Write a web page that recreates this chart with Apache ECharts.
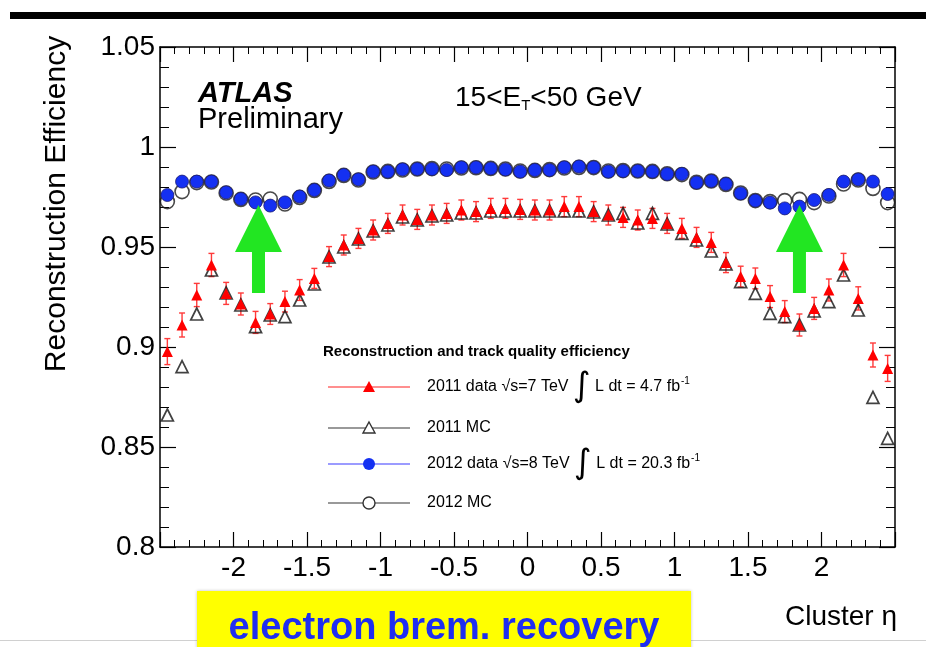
<!DOCTYPE html>
<html>
<head>
<meta charset="utf-8">
<script src="https://cdn.jsdelivr.net/npm/echarts@6/dist/echarts.min.js"></script>
<style>
  html, body { margin: 0; padding: 0; background: #fff; }
  #chart { width: 926px; height: 647px; }
</style>
</head>
<body>
<div id="chart"></div>
<script>
// Cluster eta bin centres
const etaBins = [
  -2.45, -2.35, -2.25, -2.15, -2.05, -1.95, -1.85, -1.75, -1.65, -1.55,
  -1.45, -1.35, -1.25, -1.15, -1.05, -0.95, -0.85, -0.75, -0.65, -0.55,
  -0.45, -0.35, -0.25, -0.15, -0.05, 0.05, 0.15, 0.25, 0.35, 0.45,
  0.55, 0.65, 0.75, 0.85, 0.95, 1.05, 1.15, 1.25, 1.35, 1.45,
  1.55, 1.65, 1.75, 1.85, 1.95, 2.05, 2.15, 2.25, 2.35, 2.45
];

// 2011 data, sqrt(s)=7 TeV
const eff2011Data = [
  0.8977, 0.9110, 0.9260, 0.9410, 0.9268, 0.9215, 0.9123, 0.9165, 0.9227, 0.9285,
  0.9343, 0.9452, 0.9510, 0.9543, 0.9585, 0.9618, 0.9660, 0.9638, 0.9660, 0.9668,
  0.9685, 0.9677, 0.9693, 0.9693, 0.9688, 0.9685, 0.9685, 0.9702, 0.9702, 0.9677,
  0.9660, 0.9648, 0.9635, 0.9643, 0.9618, 0.9593, 0.9548, 0.9523, 0.9422, 0.9352,
  0.9343, 0.9252, 0.9177, 0.9110, 0.9193, 0.9285, 0.9410, 0.9243, 0.8960, 0.8893
];
const eff2011Err = [
  0.0065, 0.0060, 0.0058, 0.0058, 0.0055, 0.0055, 0.0055, 0.0052, 0.0052, 0.0052,
  0.0050, 0.0050, 0.0050, 0.0050, 0.0050, 0.0050, 0.0050, 0.0050, 0.0050, 0.0050,
  0.0050, 0.0050, 0.0050, 0.0050, 0.0050, 0.0050, 0.0050, 0.0050, 0.0050, 0.0050,
  0.0050, 0.0050, 0.0050, 0.0050, 0.0050, 0.0050, 0.0050, 0.0050, 0.0050, 0.0052,
  0.0052, 0.0055, 0.0055, 0.0055, 0.0055, 0.0055, 0.0058, 0.0058, 0.0060, 0.0065
];

// 2011 simulation
const eff2011MC = [
  0.8660, 0.8902, 0.9165, 0.9385, 0.9270, 0.9210, 0.9102, 0.9160, 0.9152, 0.9235,
  0.9315, 0.9450, 0.9500, 0.9540, 0.9580, 0.9610, 0.9650, 0.9635, 0.9655, 0.9660,
  0.9670, 0.9670, 0.9680, 0.9680, 0.9680, 0.9680, 0.9680, 0.9680, 0.9680, 0.9675,
  0.9660, 0.9668, 0.9620, 0.9668, 0.9615, 0.9568, 0.9535, 0.9480, 0.9415, 0.9327,
  0.9268, 0.9168, 0.9152, 0.9110, 0.9180, 0.9227, 0.9360, 0.9185, 0.8748, 0.8543
];

// 2012 data, sqrt(s)=8 TeV
const eff2012Data = [
  0.9760, 0.9827, 0.9827, 0.9827, 0.9773, 0.9740, 0.9723, 0.9707, 0.9723, 0.9752,
  0.9785, 0.9832, 0.9860, 0.9838, 0.9877, 0.9877, 0.9888, 0.9890, 0.9890, 0.9885,
  0.9898, 0.9898, 0.9893, 0.9888, 0.9877, 0.9885, 0.9885, 0.9898, 0.9902, 0.9898,
  0.9877, 0.9880, 0.9880, 0.9877, 0.9865, 0.9865, 0.9822, 0.9830, 0.9815, 0.9768,
  0.9732, 0.9722, 0.9693, 0.9702, 0.9735, 0.9760, 0.9827, 0.9838, 0.9827, 0.9765
];

// 2012 simulation
const eff2012MC = [
  0.9727, 0.9777, 0.9822, 0.9825, 0.9770, 0.9738, 0.9735, 0.9740, 0.9715, 0.9748,
  0.9783, 0.9828, 0.9858, 0.9835, 0.9875, 0.9878, 0.9885, 0.9890, 0.9892, 0.9890,
  0.9895, 0.9896, 0.9893, 0.9890, 0.9880, 0.9883, 0.9887, 0.9895, 0.9898, 0.9897,
  0.9880, 0.9882, 0.9880, 0.9878, 0.9866, 0.9862, 0.9824, 0.9830, 0.9813, 0.9770,
  0.9732, 0.9727, 0.9732, 0.9738, 0.9722, 0.9755, 0.9815, 0.9835, 0.9793, 0.9722
];

// Arrows marking the crack region
const arrowEta = [-1.83, 1.85];
const arrowTip = 0.971;
const arrowBase = 0.927;

const FONT = '"Liberation Sans", Arial, Helvetica, sans-serif';

const pairs = (ys) => etaBins.map((x, i) => [x, ys[i]]);
const fmtY = (v) => String(+v.toFixed(2));

const chart = echarts.init(document.getElementById('chart'), null, { renderer: 'canvas' });

const tickCommon = {
  axisLine: { show: true, onZero: false, lineStyle: { color: '#000', width: 1.5 } },
  splitLine: { show: false }
};

const option = {
  animation: false,
  backgroundColor: '#fff',
  grid: { left: 160, right: 31, top: 47, bottom: 100, containLabel: false },
  xAxis: [
    Object.assign({
      type: 'value', min: -2.5, max: 2.5, interval: 0.5, position: 'bottom',
      axisTick: { show: true, inside: true, length: 15, lineStyle: { color: '#000', width: 1.2 } },
      minorTick: { show: true, splitNumber: 5, length: 7, lineStyle: { color: '#000', width: 1 } },
      axisLabel: {
        show: true, margin: 7, color: '#000', fontSize: 28, fontFamily: FONT,
        showMinLabel: false, showMaxLabel: false,
        formatter: (v) => String(+v.toFixed(1))
      }
    }, tickCommon),
    Object.assign({
      type: 'value', min: -2.5, max: 2.5, interval: 0.5, position: 'top',
      axisTick: { show: true, inside: true, length: 15, lineStyle: { color: '#000', width: 1.2 } },
      minorTick: { show: true, splitNumber: 5, length: 7, lineStyle: { color: '#000', width: 1 } },
      axisLabel: { show: false }
    }, tickCommon)
  ],
  yAxis: [
    Object.assign({
      type: 'value', min: 0.8, max: 1.05, interval: 0.05, position: 'left',
      axisTick: { show: true, inside: true, length: 16, lineStyle: { color: '#000', width: 1.2 } },
      minorTick: { show: true, splitNumber: 5, length: 9, lineStyle: { color: '#000', width: 1 } },
      axisLabel: {
        show: true, margin: 5, color: '#000', fontSize: 28, fontFamily: FONT,
        formatter: fmtY
      }
    }, tickCommon),
    Object.assign({
      type: 'value', min: 0.8, max: 1.05, interval: 0.05, position: 'right',
      axisTick: { show: true, inside: true, length: 16, lineStyle: { color: '#000', width: 1.2 } },
      minorTick: { show: true, splitNumber: 5, length: 9, lineStyle: { color: '#000', width: 1 } },
      axisLabel: { show: false }
    }, tickCommon)
  ],
  series: [
    {
      name: '2011 data errors',
      type: 'custom',
      z: 2,
      encode: { x: 0, y: [1, 2] },
      data: etaBins.map((x, i) => [x, eff2011Data[i] - eff2011Err[i], eff2011Data[i] + eff2011Err[i]]),
      renderItem: (params, api) => {
        const top = api.coord([api.value(0), api.value(2)]);
        const bot = api.coord([api.value(0), api.value(1)]);
        const cap = 3;
        const st = { stroke: '#ff3a3a', lineWidth: 1.4 };
        return {
          type: 'group',
          children: [
            { type: 'line', shape: { x1: top[0], y1: top[1], x2: bot[0], y2: bot[1] }, style: st },
            { type: 'line', shape: { x1: top[0] - cap, y1: top[1], x2: top[0] + cap, y2: top[1] }, style: st },
            { type: 'line', shape: { x1: bot[0] - cap, y1: bot[1], x2: bot[0] + cap, y2: bot[1] }, style: st }
          ]
        };
      }
    },
    {
      name: '2011 MC', type: 'scatter', z: 3,
      symbol: 'triangle', symbolSize: 12,
      itemStyle: { color: 'rgba(255,255,255,0)', borderColor: '#111', borderWidth: 1.7 },
      data: pairs(eff2011MC)
    },
    {
      name: '2011 data', type: 'scatter', z: 4,
      symbol: 'triangle', symbolSize: 11,
      itemStyle: { color: '#ff0000', opacity: 1 },
      data: pairs(eff2011Data)
    },
    {
      name: '2012 MC', type: 'scatter', z: 3,
      symbol: 'circle', symbolSize: 14,
      itemStyle: { color: 'rgba(255,255,255,0)', borderColor: '#1a1a1a', borderWidth: 1.6 },
      data: pairs(eff2012MC)
    },
    {
      name: '2012 data', type: 'scatter', z: 4,
      symbol: 'circle', symbolSize: 13,
      itemStyle: { color: '#1430f2', borderColor: '#1a1a70', borderWidth: 0.8, opacity: 1 },
      data: pairs(eff2012Data)
    },
    {
      name: 'arrows', type: 'custom', z: 6,
      encode: { x: 0 },
      data: arrowEta.map((e) => [e]),
      renderItem: (params, api) => {
        const tip = api.coord([api.value(0), arrowTip]);
        const base = api.coord([api.value(0), arrowBase]);
        const cx = tip[0];
        const headLen = 47, headHalf = 23.5, shaftHalf = 6.5;
        return {
          type: 'polygon',
          shape: {
            points: [
              [cx, tip[1]],
              [cx + headHalf, tip[1] + headLen],
              [cx + shaftHalf, tip[1] + headLen],
              [cx + shaftHalf, base[1]],
              [cx - shaftHalf, base[1]],
              [cx - shaftHalf, tip[1] + headLen],
              [cx - headHalf, tip[1] + headLen]
            ]
          },
          style: { fill: '#22e622', stroke: null }
        };
      }
    }
  ],
  graphic: [
    // heavy rule across the top
    { type: 'rect', left: 10, top: 12, shape: { width: 916, height: 7 }, style: { fill: '#000' } },
    { type: 'rect', left: 0, top: 640, shape: { width: 926, height: 1 }, style: { fill: '#d0d0d0' } },
    // axis titles
    {
      type: 'text', x: 57, y: 204, rotation: Math.PI / 2,
      style: { text: 'Reconstruction Efficiency', font: '30px ' + FONT, fill: '#000', align: 'center', verticalAlign: 'middle' }
    },
    {
      type: 'text', x: 897, y: 617,
      style: { text: 'Cluster η', font: '28px ' + FONT, fill: '#000', align: 'right', verticalAlign: 'middle' }
    },
    // experiment label
    {
      type: 'text', x: 198, y: 94,
      style: { text: 'ATLAS', font: 'italic bold 29px ' + FONT, fill: '#000', align: 'left', verticalAlign: 'middle' }
    },
    {
      type: 'text', x: 198, y: 120,
      style: { text: 'Preliminary', font: '29px ' + FONT, fill: '#000', align: 'left', verticalAlign: 'middle' }
    },
    {
      type: 'text', x: 455, y: 98,
      style: {
        text: '{n|15<E}{s|T}{n|<50 GeV}',
        align: 'left', verticalAlign: 'middle',
        rich: {
          n: { font: '28px ' + FONT, fill: '#000' },
          s: { font: '15px ' + FONT, fill: '#000', padding: [16, 0, 0, 0] }
        }
      }
    },
    // legend
    {
      type: 'text', x: 323, y: 352,
      style: { text: 'Reconstruction and track quality efficiency', font: 'bold 15px ' + FONT, fill: '#000', align: 'left', verticalAlign: 'middle' }
    },
    { type: 'line', shape: { x1: 328, y1: 387, x2: 410, y2: 387 }, style: { stroke: '#ff6a6a', lineWidth: 1.5 } },
    { type: 'polygon', shape: { points: [[369, 381], [375, 392], [363, 392]] }, style: { fill: '#ff0000' } },
    { type: 'line', shape: { x1: 328, y1: 428, x2: 410, y2: 428 }, style: { stroke: '#777', lineWidth: 1.5 } },
    { type: 'polygon', shape: { points: [[369, 422], [375, 433], [363, 433]] }, style: { fill: '#fff', stroke: '#333', lineWidth: 1.4 } },
    { type: 'line', shape: { x1: 328, y1: 464, x2: 410, y2: 464 }, style: { stroke: '#7a7aff', lineWidth: 1.5 } },
    { type: 'circle', shape: { cx: 369, cy: 464, r: 6 }, style: { fill: '#1430f2' } },
    { type: 'line', shape: { x1: 328, y1: 503, x2: 410, y2: 503 }, style: { stroke: '#777', lineWidth: 1.5 } },
    { type: 'circle', shape: { cx: 369, cy: 503, r: 6 }, style: { fill: '#fff', stroke: '#333', lineWidth: 1.4 } },
    {
      type: 'text', x: 427, y: 387,
      style: {
        text: '{t|2011 data }{t|√s=7 TeV }{i|∫}{t| L dt = 4.7 fb}{u|-1}',
        align: 'left', verticalAlign: 'middle',
        rich: {
          t: { font: '16px ' + FONT, fill: '#000' },
          i: { font: '34px "DejaVu Sans", sans-serif', fill: '#000' },
          u: { font: '10px ' + FONT, fill: '#000', padding: [0, 0, 12, 1] }
        }
      }
    },
    {
      type: 'text', x: 427, y: 428,
      style: { text: '2011 MC', font: '16px ' + FONT, fill: '#000', align: 'left', verticalAlign: 'middle' }
    },
    {
      type: 'text', x: 427, y: 464,
      style: {
        text: '{t|2012 data }{t|√s=8 TeV }{i|∫}{t| L dt = 20.3 fb}{u|-1}',
        align: 'left', verticalAlign: 'middle',
        rich: {
          t: { font: '16px ' + FONT, fill: '#000' },
          i: { font: '34px "DejaVu Sans", sans-serif', fill: '#000' },
          u: { font: '10px ' + FONT, fill: '#000', padding: [0, 0, 12, 1] }
        }
      }
    },
    {
      type: 'text', x: 427, y: 503,
      style: { text: '2012 MC', font: '16px ' + FONT, fill: '#000', align: 'left', verticalAlign: 'middle' }
    },
    // highlighted caption box
    { type: 'rect', left: 197, top: 591, shape: { width: 494, height: 60 }, style: { fill: '#ffff00', shadowBlur: 3, shadowColor: 'rgba(0,0,0,0.25)' } },
    {
      type: 'text', x: 444, y: 629,
      style: { text: 'electron brem. recovery', font: 'bold 38px ' + FONT, fill: '#1f2ef0', align: 'center', verticalAlign: 'middle' }
    }
  ]
};

chart.setOption(option);
</script>
</body>
</html>
